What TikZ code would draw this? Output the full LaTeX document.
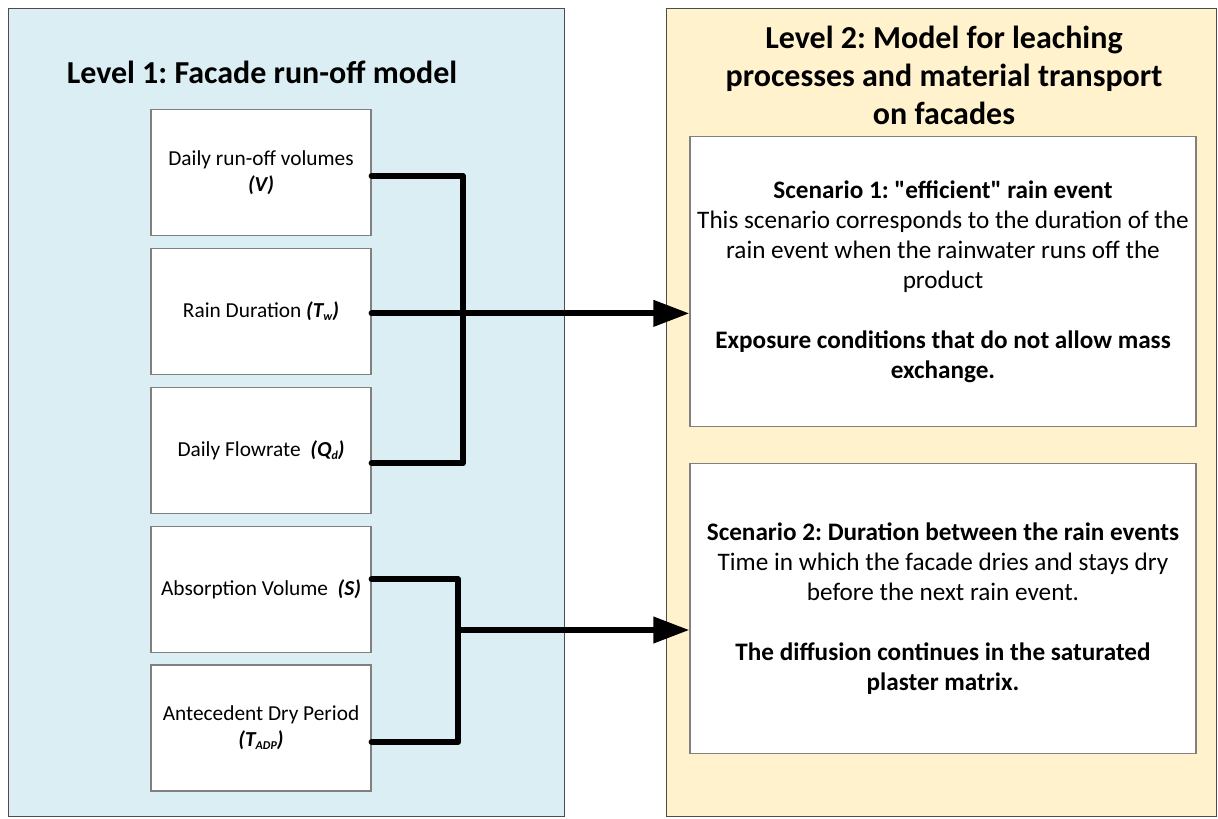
\documentclass[tikz,border=0pt]{standalone}
\usepackage{fontspec}
\setmainfont{Carlito}
\usetikzlibrary{arrows.meta,positioning}

\definecolor{panelblue}{HTML}{DAEEF3}
\definecolor{panelyellow}{HTML}{FFF2CC}
\definecolor{boxgray}{HTML}{808080}

\newcommand{\lowsub}[1]{\raisebox{-0.25ex}{\fontsize{9}{9}\selectfont #1}}

\tikzset{
	varbox/.style={draw=boxgray,line width=0.9pt,fill=white,minimum width=165pt,minimum height=94.5pt,inner sep=0pt,align=center,font=\fontsize{16}{19.5}\selectfont},
	scenbox/.style={draw=boxgray,line width=0.9pt,fill=white,minimum width=379.5pt,minimum height=217.5pt,inner sep=0pt,align=center,font=\fontsize{18.9}{22.5}\selectfont},
	leveltitle/.style={align=center,font=\fontsize{24}{28.5}\selectfont\bfseries},
	link/.style={line width=4.5pt,line cap=round,line join=round},
	feed/.style={link,-{Triangle[length=27pt,width=19pt]}}
}

\begin{document}
\frenchspacing
\begin{tikzpicture}[x=0.75pt,y=-0.75pt]
			\useasboundingbox (0,0) rectangle (1218,818);

			% Paneles
			\filldraw[fill=panelblue,draw=black!70,line width=0.75pt] (8,8) rectangle (564,816);
			\filldraw[fill=panelyellow,draw=black!70,line width=0.75pt] (666,8) rectangle (1216,816);

			\node[leveltitle] (t1) at (262,72) {Level 1: Facade run-off model};
			\node[leveltitle] (t2) at (944,75) {Level 2: Model for leaching\\processes and material transport\\on facades};

			% Variables
			\node[varbox] (v1) at (261,172.5) {Daily run-off volumes\\\textbf{\textit{(V)}}};
			\node[varbox,below=8.75pt of v1] (v2) {Rain Duration \textbf{\textit{(T\lowsub{w})}}};
			\node[varbox,below=8.75pt of v2] (v3) {Daily Flowrate\ \ \textbf{\textit{(Q\lowsub{d})}}};
			\node[varbox,below=8.75pt of v3] (v4) {Absorption Volume\ \ \textbf{\textit{(S)}}};
			\node[varbox,below=8.75pt of v4] (v5) {Antecedent Dry Period\\\textbf{\textit{(T\lowsub{ADP})}}};

			% Escenarios
			\node[scenbox] (s1) at (943,281.5) {\textbf{Scenario 1: \textquotedbl efficient\textquotedbl{} rain event}\\This scenario corresponds to the duration of the\\rain event when the rainwater runs off the\\product\\[22.5pt]\textbf{Exposure conditions that do not allow mass}\\\textbf{exchange.}};
			\node[scenbox] (s2) at (943,608.5) {\textbf{Scenario 2: Duration between the rain events}\\Time in which the facade dries and stays dry\\before the next rain event.\\[22.5pt]\textbf{The diffusion continues in the saturated}\\\textbf{plaster matrix.}};

			% Conexiones
			\coordinate (j1) at (463,312);
			\coordinate (j2) at (458,630);
			\draw[link] ([yshift=-2.5pt]v1.east) -| (j1) |- ([yshift=-9.75pt]v3.east);
			\draw[feed] ([yshift=-1.5pt]v2.east) -- ([yshift=-1.5pt]v2.east -| s1.west);
			\draw[link] ([yshift=7.5pt]v4.east) -| (j2) |- ([yshift=-10.5pt]v5.east);
			\draw[feed] (j2) -- (j2 -| s2.west);

		    \end{tikzpicture}
\end{document}
